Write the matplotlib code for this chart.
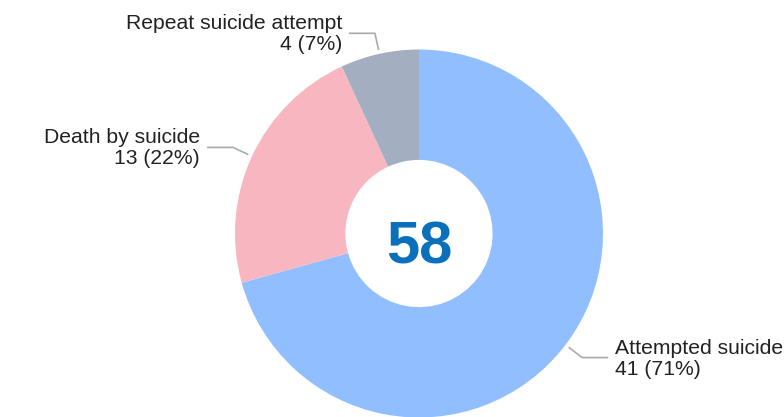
import matplotlib
matplotlib.use("Agg")
import matplotlib.pyplot as plt
import numpy as np

plt.rcParams.update({"font.family": ["Liberation Sans", "DejaVu Sans"]})

categories = ["Attempted suicide", "Death by suicide", "Repeat suicide attempt"]
counts = [41, 13, 4]
percents = [71, 22, 7]
total = 58
colors = ["#90BEFF", "#F8B7C0", "#A3AFC1"]

W, H = 784, 417
fig = plt.figure(figsize=(W / 100, H / 100), dpi=100)
ax = fig.add_axes([0, 0, 1, 1])

cx, cy, R = 419, H - 233.5, 184
wedges, _ = ax.pie(counts, colors=colors, startangle=90, counterclock=False,
                   center=(cx, cy), radius=R, frame=True,
                   wedgeprops=dict(width=R * 0.6, linewidth=0))
ax.set_xlim(0, W)
ax.set_ylim(0, H)
ax.set_aspect("equal")
ax.axis("off")

# leader lines + labels, placed from each wedge's middle angle
for w, name, n, p in zip(wedges, categories, counts, percents):
    ang = np.deg2rad((w.theta1 + w.theta2) / 2)
    x1, y1 = cx + 188 * np.cos(ang), cy + 188 * np.sin(ang)
    x2, y2 = cx + 205 * np.cos(ang), cy + 205 * np.sin(ang)
    side = 1 if np.cos(ang) > 0 else -1
    x3 = x2 + side * 26
    ax.plot([x1, x2, x3], [y1, y2, y2], color="#AAAAAA", lw=1.2,
            solid_capstyle="butt")
    ha = "left" if side > 0 else "right"
    ax.text(x3 + side * 7, y2 - 1, f"{name}\n{n} ({p}%)", ha=ha, va="center",
            multialignment=ha, fontsize=15.2, color="#222222", linespacing=1.13)

ax.text(cx, H - 263, str(total), ha="center", va="baseline", fontsize=43,
        fontweight="bold", color="#0A70BC")

fig.savefig("out.png", dpi=100)
